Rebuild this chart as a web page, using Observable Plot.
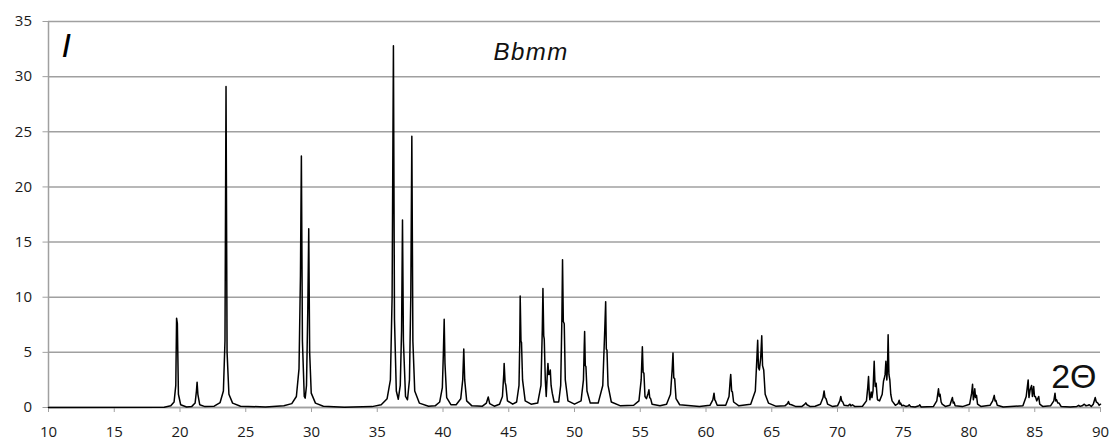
<!DOCTYPE html>
<html>
<head>
<meta charset="utf-8">
<script src="https://cdn.jsdelivr.net/npm/d3@7"></script>
<script src="https://cdn.jsdelivr.net/npm/@observablehq/plot@0.6"></script>
<style>
  html, body { margin: 0; padding: 0; background: #fff; }
  #chart svg { display: block; }
</style>
</head>
<body>
<div id="chart"></div>
<script>
// Calculated powder diffraction profile (Bbmm), intensity vs 2θ in degrees
const twoTheta = [
  10.0, 18.8, 19.3, 19.55, 19.68, 19.74, 19.8, 19.88, 20.05, 20.5,
  20.9, 21.15, 21.25, 21.3, 21.36, 21.5, 21.9,
  22.6, 23.05, 23.3, 23.42, 23.5, 23.58, 23.72, 24.0, 24.6,
  26.5, 27.9, 28.5, 28.85, 29.05, 29.16, 29.23, 29.31, 29.45, 29.52, 29.62, 29.72, 29.79, 29.86, 29.98, 30.3, 30.9,
  32.5, 34.6, 35.3, 35.75, 36.0, 36.13, 36.23, 36.31, 36.45, 36.6, 36.75, 36.85, 36.92, 36.99, 37.15, 37.3,
  37.45, 37.55, 37.63, 37.71, 37.85, 38.2, 38.9,
  39.4, 39.75, 39.95, 40.03, 40.09, 40.15, 40.28, 40.6,
  41.0, 41.35, 41.5, 41.58, 41.65, 41.8, 42.2,
  43.0, 43.3, 43.44, 43.55, 43.9,
  44.3, 44.52, 44.62, 44.65, 44.72, 44.78, 44.9, 45.3,
  45.6, 45.78, 45.84, 45.87, 45.93, 45.97, 46.05, 46.25, 46.7,
  47.2, 47.45, 47.55, 47.6, 47.66, 47.7, 47.78, 47.85, 47.93, 47.98, 48.04, 48.08, 48.12, 48.16, 48.22, 48.31, 48.45,
  48.8, 48.95, 49.04, 49.09, 49.15, 49.22, 49.3, 49.5, 50.0,
  50.5, 50.68, 50.74, 50.77, 50.82, 50.87, 50.95, 51.2,
  51.8, 52.15, 52.3, 52.37, 52.42, 52.47, 52.55, 52.8, 53.5,
  54.5, 54.9, 55.07, 55.16, 55.22, 55.28, 55.36, 55.47, 55.6, 55.66, 55.72, 55.79, 55.9, 56.5,
  57.0, 57.3, 57.43, 57.49, 57.55, 57.62, 57.72, 58.0, 59.5,
  60.3, 60.52, 60.61, 60.67, 60.72, 60.85,
  61.5, 61.75, 61.84, 61.88, 61.95, 62.01, 62.1, 62.5,
  63.4, 63.75, 63.87, 63.93, 63.99, 64.06, 64.16, 64.24, 64.3, 64.39, 64.5, 64.75, 65.3,
  66.0, 66.2, 66.27, 66.35, 66.5, 66.8,
  67.3, 67.52, 67.59, 67.68, 67.9, 68.3,
  68.7, 68.9, 68.98, 69.05, 69.13, 69.25, 69.6,
  70.0, 70.18, 70.25, 70.32, 70.4, 70.5, 70.8, 70.95, 71.02, 71.14, 71.3,
  71.9, 72.2, 72.3, 72.36, 72.42, 72.46, 72.56, 72.62, 72.7, 72.79, 72.84, 72.87, 72.94, 73.0, 73.04,
  73.2, 73.4, 73.5, 73.55, 73.62, 73.68, 73.75, 73.8, 73.85, 73.91, 73.98, 74.05, 74.15, 74.4,
  74.6, 74.69, 74.75, 74.8, 74.9, 75.0, 75.2, 75.4, 75.45, 75.55, 75.9, 76.2, 76.26, 76.35,
  77.3, 77.55, 77.62, 77.68, 77.74, 77.8, 77.88, 77.96, 78.2,
  78.55, 78.68, 78.74, 78.8, 78.86, 78.95, 79.5,
  80.05, 80.2, 80.27, 80.33, 80.38, 80.44, 80.5, 80.57, 80.65, 80.9,
  81.6, 81.8, 81.92, 81.98, 82.04, 82.15, 82.6,
  84.1, 84.35, 84.5, 84.56, 84.65, 84.76, 84.82, 84.92, 84.98, 85.05, 85.15, 85.3, 85.38, 85.6,
  86.2, 86.45, 86.54, 86.6, 86.66, 86.75, 86.85, 87.0, 87.7,
  88.2, 88.34, 88.45, 88.6, 88.77, 88.9, 89.05, 89.15, 89.3, 89.45, 89.6, 89.68, 89.8, 89.9, 90.0
];

const intensity = [
  0, 0.03, 0.15, 0.5, 2.0, 8.1, 7.6, 1.2, 0.25, 0.05,
  0.1, 0.4, 1.5, 2.3, 1.2, 0.25, 0.08,
  0.12, 0.45, 1.5, 6, 29.1, 5, 1.2, 0.4, 0.12,
  0.05, 0.15, 0.35, 1.0, 3.5, 12, 22.8, 6, 1.0, 0.85, 2.0, 9, 16.2, 5, 1.3, 0.4, 0.12,
  0.03, 0.08, 0.25, 0.8, 2.5, 10, 32.8, 8, 1.5, 0.75, 2.0, 7, 17.0, 6, 1.0, 0.7,
  2.5, 10, 24.6, 6, 1.5, 0.4, 0.12,
  0.15, 0.5, 1.8, 5, 8.0, 4, 0.9, 0.25,
  0.25, 0.8, 2.5, 5.3, 2.5, 0.6, 0.15,
  0.12, 0.4, 0.95, 0.35, 0.12,
  0.3, 1.0, 3.0, 4.0, 2.3, 2.0, 0.6, 0.3,
  0.5, 2.0, 6, 10.1, 6, 5.9, 2.5, 0.6, 0.3,
  0.4, 2.0, 7, 10.8, 6.5, 6.2, 2.5, 1.0, 3.0, 4.0, 3.0, 3.2, 3.0, 3.4, 2.0, 1.3, 0.5,
  0.5, 2.0, 8, 13.4, 7.8, 7.6, 2.5, 0.6, 0.3,
  0.6, 2.5, 5.5, 6.9, 3.8, 3.7, 1.5, 0.4,
  0.4, 2.0, 7, 9.6, 5.3, 5.2, 2.0, 0.5, 0.15,
  0.2, 0.6, 2.5, 5.5, 3.2, 3.1, 1.0, 0.8, 1.3, 1.6, 0.9, 0.8, 0.3, 0.15,
  0.3, 1.2, 3.5, 4.95, 2.7, 2.6, 0.8, 0.25, 0.08,
  0.2, 0.7, 1.3, 0.7, 0.6, 0.2,
  0.2, 1.0, 2.5, 3.0, 1.5, 1.4, 0.5, 0.15,
  0.3, 1.5, 4.5, 6.1, 3.6, 3.4, 4.5, 6.5, 3.8, 3.4, 1.2, 0.4, 0.12,
  0.15, 0.35, 0.55, 0.3, 0.25, 0.1,
  0.1, 0.3, 0.42, 0.25, 0.1, 0.12,
  0.3, 0.9, 1.5, 0.9, 0.8, 0.3, 0.1,
  0.15, 0.6, 1.0, 0.6, 0.5, 0.2, 0.15, 0.3, 0.15, 0.25, 0.1,
  0.12, 0.6, 1.8, 2.8, 1.2, 0.7, 1.4, 0.9, 1.5, 4.2, 2.5, 1.9, 2.2, 1.2, 0.7,
  0.6, 1.2, 2.4, 2.6, 3.0, 4.2, 2.5, 3.5, 6.6, 3.0, 2.5, 1.2, 0.6, 0.2,
  0.35, 0.65, 0.3, 0.4, 0.15, 0.2, 0.1, 0.15, 0.25, 0.1, 0.05, 0.15, 0.25, 0.05,
  0.1, 0.6, 1.2, 1.7, 1.0, 1.2, 0.5, 0.3, 0.1,
  0.2, 0.7, 0.9, 0.4, 0.5, 0.15, 0.08,
  0.3, 1.3, 2.1, 0.7, 1.0, 1.7, 0.9, 1.1, 0.3, 0.1,
  0.2, 0.6, 1.1, 0.6, 0.65, 0.2, 0.05,
  0.15, 1.0, 2.5, 0.9, 1.6, 2.0, 1.0, 1.9, 1.0, 1.0, 0.6, 1.0, 0.3, 0.1,
  0.15, 0.6, 1.3, 0.6, 0.7, 0.4, 0.4, 0.1, 0.05,
  0.1, 0.2, 0.1, 0.15, 0.3, 0.15, 0.2, 0.25, 0.1, 0.3, 0.9, 0.5, 0.4, 0.2, 0.3
];

const xTicks = [10, 15, 20, 25, 30, 35, 40, 45, 50, 55, 60, 65, 70, 75, 80, 85, 90];
const yTicks = [0, 5, 10, 15, 20, 25, 30, 35];

const axisLabel = "I";
const phaseLabel = "Bbmm";
const angleLabel = "2Θ";

const profile = twoTheta.map((t, i) => ({twoTheta: t, intensity: intensity[i]}));

const gray = "#a0a0a0";
const tickFont = "'Open Sans', 'Liberation Sans', sans-serif";
const labelFont = "'Liberation Sans', Arial, sans-serif";

const chart = Plot.plot({
  width: 1109,
  height: 439,
  marginLeft: 48,
  marginRight: 9,
  marginTop: 21,
  marginBottom: 32,
  style: {background: "#fff", fontFamily: tickFont, fontSize: "15px", overflow: "visible"},
  x: {domain: [10, 90]},
  y: {domain: [0, 35]},
  marks: [
    Plot.gridY(yTicks, {stroke: gray, strokeOpacity: 1, strokeWidth: 1.5}),
    Plot.ruleX([10], {stroke: gray, strokeWidth: 1.5}),
    Plot.ruleY([0], {stroke: gray, strokeWidth: 1.5}),
    Plot.axisY(yTicks, {
      tickSize: 5.5, tickPadding: 11, stroke: gray, fill: "#1a1a1a",
      label: null, tickFormat: d => String(d)
    }),
    Plot.axisX(xTicks, {
      tickSize: 5, tickPadding: 14, stroke: gray, fill: "#1a1a1a",
      label: null, tickFormat: d => String(d)
    }),
    Plot.line(profile, {
      x: "twoTheta", y: "intensity",
      stroke: "#000", strokeWidth: 1.5, curve: "linear"
    }),
    Plot.text([axisLabel], {
      text: d => d, frameAnchor: "top-left", textAnchor: "start", lineAnchor: "top",
      dx: 13, dy: 11, fontSize: 34, fontStyle: "italic", fontFamily: labelFont, fill: "#000"
    }),
    Plot.text([phaseLabel], {
      text: d => d, frameAnchor: "top-left", textAnchor: "start", lineAnchor: "top",
      dx: 445, dy: 21, fontSize: 24, fontStyle: "italic", fontFamily: labelFont, fill: "#111"
    }),
    Plot.text([angleLabel], {
      text: d => d, frameAnchor: "bottom-right", textAnchor: "end", lineAnchor: "bottom",
      dx: -4, dy: -20, fontSize: 34, fontFamily: labelFont, fill: "#111"
    })
  ]
});

// slightly widen the phase label's letter spacing
d3.select(chart).selectAll("text")
  .filter(function () { return this.textContent === phaseLabel; })
  .style("letter-spacing", "1.5px");

document.getElementById("chart").appendChild(chart);
</script>
</body>
</html>
